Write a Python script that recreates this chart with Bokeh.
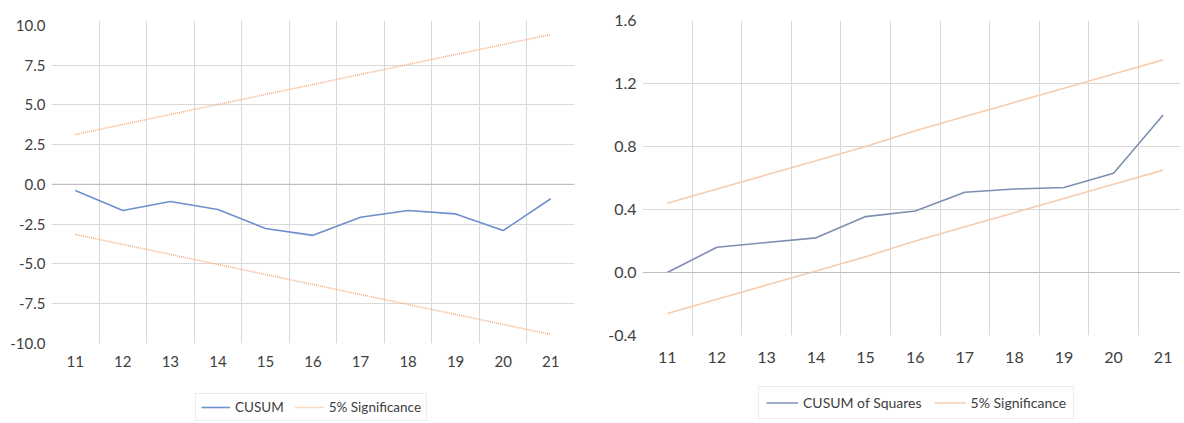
from bokeh.plotting import figure
from bokeh.layouts import row, column
from bokeh.models import FixedTicker, NumeralTickFormatter, Span, Legend, LegendItem
from bokeh.embed import file_html
from bokeh.resources import INLINE

# ---- data ----
periods = [11, 12, 13, 14, 15, 16, 17, 18, 19, 20, 21]
cusum = [-0.38, -1.64, -1.07, -1.57, -2.77, -3.20, -2.06, -1.64, -1.85, -2.90, -0.90]
cusum_upper = [3.14, 3.77, 4.40, 5.03, 5.66, 6.29, 6.92, 7.55, 8.17, 8.80, 9.43]
cusum_lower = [-3.14, -3.77, -4.40, -5.03, -5.66, -6.29, -6.92, -7.55, -8.17, -8.80, -9.43]
cusumsq = [0.0, 0.16, 0.19, 0.22, 0.355, 0.39, 0.51, 0.53, 0.54, 0.63, 1.0]
sq_upper = [0.44, 0.53, 0.62, 0.71, 0.80, 0.90, 0.99, 1.08, 1.17, 1.26, 1.35]
sq_lower = [-0.26, -0.17, -0.08, 0.01, 0.10, 0.20, 0.29, 0.38, 0.47, 0.56, 0.65]
left_yticks = [-10, -7.5, -5, -2.5, 0, 2.5, 5, 7.5, 10]
right_yticks = [-0.4, 0.0, 0.4, 0.8, 1.2, 1.6]
labels_left = ["CUSUM", "5% Significance"]
labels_right = ["CUSUM of Squares", "5% Significance"]

FONT = "Lato"
TXT = "#404040"
GRID = "#d9d9d9"
C_BLUE1 = "#6e8fce"
C_ORANGE1 = "#f4b183"
C_BLUE2 = "#7d8fb0"
C_ORANGE2 = "#f6cdae"


def style(p, yticks, grid_ticks, label_size, standoff_x):
    p.outline_line_color = None
    p.xaxis.ticker = FixedTicker(ticks=periods)
    p.yaxis.ticker = FixedTicker(ticks=yticks)
    p.yaxis.formatter = NumeralTickFormatter(format="0.0")
    for ax in (p.xaxis[0], p.yaxis[0]):
        ax.axis_line_color = None
        ax.major_tick_line_color = None
        ax.minor_tick_line_color = None
        ax.major_tick_out = 0
        ax.major_tick_in = 0
        ax.major_label_text_font = FONT
        ax.major_label_text_font_size = label_size
        ax.major_label_text_color = TXT
    p.yaxis.major_label_standoff = 6
    p.xaxis.major_label_standoff = standoff_x
    p.xgrid.ticker = FixedTicker(ticks=[x + 0.5 for x in periods[:-1]])
    p.xgrid.grid_line_color = GRID
    p.ygrid.ticker = FixedTicker(ticks=grid_ticks)
    p.ygrid.grid_line_color = GRID
    p.add_layout(Span(location=0, dimension="width", line_color="#bfbfbf", line_width=1.2))


def legend_fig(width, height, items, loc, font_size, glyph_w, spacing, padding, label_h):
    # a strip that only carries the legend; the series lie outside its ranges
    f = figure(output_backend="svg", toolbar_location=None, width=width, height=height,
               min_border=0, x_range=(0, 1), y_range=(0, 1))
    f.outline_line_color = None
    f.axis.visible = False
    f.grid.visible = False
    leg_items = []
    for label, ys, color, dash in items:
        r = f.line(periods, ys, line_color=color, line_width=1.6, line_dash=dash)
        leg_items.append(LegendItem(label=label, renderers=[r]))
    leg = Legend(items=leg_items, orientation="horizontal", location=loc,
                 label_text_font=FONT, label_text_font_size=font_size, label_text_color=TXT,
                 glyph_width=glyph_w, glyph_height=label_h, label_height=label_h,
                 spacing=spacing, padding=padding, margin=0,
                 border_line_color="#d9d9d9", label_standoff=5)
    f.add_layout(leg, "center")
    return f


# ---- left: CUSUM ----
p1 = figure(output_backend="svg", toolbar_location=None,
            frame_width=523, frame_height=323,
            min_border_left=51, min_border_right=16, min_border_top=20, min_border_bottom=32,
            x_range=(10.5, 21.5), y_range=(-10, 10.31))
style(p1, left_yticks, [-7.5, -5, -2.5, 2.5, 5, 7.5], "15px", 12)
p1.line(periods, cusum, line_color=C_BLUE1, line_width=1.6)
p1.line(periods, cusum_upper, line_color=C_ORANGE1, line_width=1.6, line_dash="1 1")
p1.line(periods, cusum_lower, line_color=C_ORANGE1, line_width=1.6, line_dash="1 1")
l1 = legend_fig(590, 46,
                [(labels_left[0], cusum, C_BLUE1, "solid"),
                 (labels_left[1], cusum_upper, C_ORANGE1, "1 1")],
                (144, 0), "13.5px", 29, 11, 5, 16)

# ---- right: CUSUM of Squares ----
p2 = figure(output_backend="svg", toolbar_location=None,
            frame_width=538, frame_height=315,
            min_border_left=52, min_border_right=0, min_border_top=20, min_border_bottom=40,
            x_range=(10.5, 21.35), y_range=(-0.4, 1.6))
style(p2, right_yticks, [0.4, 0.8, 1.2], "16px", 16)
p2.line(periods, cusumsq, line_color=C_BLUE2, line_width=1.6)
p2.line(periods, sq_upper, line_color=C_ORANGE2, line_width=1.6)
p2.line(periods, sq_lower, line_color=C_ORANGE2, line_width=1.6)
l2 = legend_fig(590, 46,
                [(labels_right[0], cusumsq, C_BLUE2, "solid"),
                 (labels_right[1], sq_upper, C_ORANGE2, "solid")],
                (116, 2), "14px", 32, 12, 7, 17)

layout = row(column(p1, l1), column(p2, l2))
open("out.html", "w").write(file_html(layout, INLINE))
